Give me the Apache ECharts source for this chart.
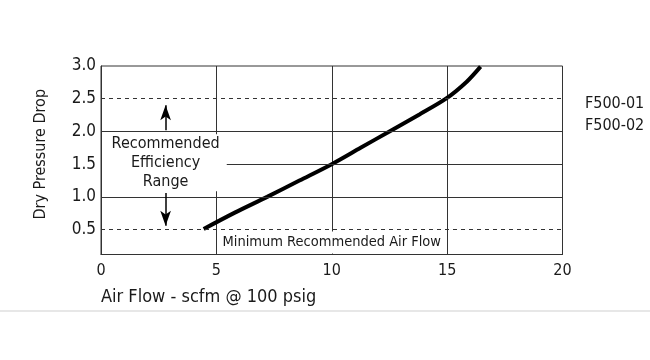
<!DOCTYPE html>
<html>
<head>
<meta charset="utf-8">
<script src="https://cdn.jsdelivr.net/npm/echarts@6/dist/echarts.min.js"></script>
<style>
html,body{margin:0;padding:0;background:#fff;}
#c{width:650px;height:360px;}
</style>
</head>
<body>
<div id="c"></div>
<script>
// ---- data ----
const airFlow = [4.45, 5.8, 7.2, 8.6, 10.0, 11.25, 12.5, 13.8, 14.95, 15.85, 16.45];
const pressureDrop = [0.51, 0.76, 1.0, 1.25, 1.5, 1.75, 2.0, 2.26, 2.5, 2.76, 2.99];
const yTickValues = [0.5, 1.0, 1.5, 2.0, 2.5, 3.0];
const dashedLevels = [0.5, 2.5];
const solidLevels = [1.0, 2.0];
const partialLevel = { from: 5.45, to: 20, y: 1.5 };
const upArrow = { x: 2.8, from: 2.02, to: 2.4 };
const downArrow = { x: 2.8, from: 1.06, to: 0.56 };
const efficiencyLabel = { x: 2.8, y: 1.52, text: 'Recommended\nEfficiency\nRange' };
const minFlowLabel = { x: 10, y: 0.305, text: 'Minimum Recommended Air Flow' };
const modelNames = ['F500-01', 'F500-02'];
const xTitle = 'Air Flow - scfm @ 100 psig';
const yTitle = 'Dry Pressure Drop';

const FONT = '"Liberation Sans Narrow", "DejaVu Sans Condensed", "Liberation Sans", sans-serif';
const INK = '#1a1a1a';
const GRID = '#333';

const chart = echarts.init(document.getElementById('c'), null, { renderer: 'canvas' });

const markLines = [];
dashedLevels.forEach(v => markLines.push({ yAxis: v, lineStyle: { type: [4, 4], color: GRID, width: 1 } }));
solidLevels.forEach(v => markLines.push({ yAxis: v, lineStyle: { type: 'solid', color: GRID, width: 1 } }));
markLines.push([
  { coord: [partialLevel.from, partialLevel.y], lineStyle: { type: 'solid', color: GRID, width: 1 } },
  { coord: [partialLevel.to, partialLevel.y] }
]);
[upArrow, downArrow].forEach(a => markLines.push([
  { coord: [a.x, a.from], symbol: 'none', lineStyle: { type: 'solid', color: '#000', width: 1.5 } },
  { coord: [a.x, a.to], symbol: 'arrow', symbolSize: [8, 15] }
]));

const option = {
  animation: false,
  backgroundColor: '#fff',
  textStyle: { fontFamily: FONT },
  grid: {
    left: 101, top: 66, right: 87.5, bottom: 105.5,
    show: true, borderColor: GRID, borderWidth: 1, backgroundColor: 'transparent'
  },
  title: [
    { text: xTitle, left: 101, top: 287, padding: 0,
      textStyle: { fontFamily: FONT, fontSize: 18, fontWeight: 'normal', color: INK, lineHeight: 20 } },
    { text: modelNames.join('\n'), left: 585, top: 93, padding: 0,
      textStyle: { fontFamily: FONT, fontSize: 16, fontWeight: 'normal', color: INK, lineHeight: 22 } }
  ],
  xAxis: {
    type: 'value', min: 0, max: 20, interval: 5,
    axisLine: { show: true, lineStyle: { color: GRID, width: 1 } },
    axisTick: { show: false },
    axisLabel: { color: INK, fontSize: 16, fontFamily: FONT, margin: 8 },
    splitLine: { show: true, lineStyle: { color: GRID, width: 1 } }
  },
  yAxis: {
    type: 'value', min: 0.12, max: 3.0,
    name: yTitle, nameLocation: 'middle', nameGap: 52,
    nameTextStyle: { color: INK, fontSize: 16, fontFamily: FONT, padding: [0, 0, 0, 12] },
    axisLine: { show: true, lineStyle: { color: GRID, width: 1 } },
    axisTick: { show: false },
    axisLabel: {
      customValues: yTickValues, color: INK, fontSize: 17, fontFamily: FONT, margin: 5,
      formatter: v => Number(v).toFixed(1)
    },
    splitLine: { show: false }
  },
  graphic: [
    { type: 'line', silent: true, shape: { x1: 0, y1: 311, x2: 650, y2: 311 },
      style: { stroke: '#cfcfcf', lineWidth: 1 } }
  ],
  series: [{
    type: 'line',
    data: airFlow.map((x, i) => [x, pressureDrop[i]]),
    smooth: 0.3,
    showSymbol: false,
    silent: true,
    lineStyle: { color: '#000', width: 4 },
    markLine: {
      silent: true, symbol: 'none', animation: false,
      label: { show: false },
      emphasis: { disabled: true },
      data: markLines
    },
    markPoint: {
      silent: true, animation: false,
      symbol: 'rect', symbolSize: 0,
      data: [
        { coord: [efficiencyLabel.x, efficiencyLabel.y],
          label: { show: true, position: 'inside', formatter: efficiencyLabel.text,
            fontFamily: FONT, fontSize: 16, lineHeight: 19, color: INK, align: 'center', verticalAlign: 'middle',
            backgroundColor: '#fff', padding: [0, 6] } },
        { coord: [minFlowLabel.x, minFlowLabel.y],
          label: { show: true, position: 'inside', formatter: minFlowLabel.text,
            fontFamily: FONT, fontSize: 14.5, lineHeight: 22, color: INK, align: 'center', verticalAlign: 'middle',
            backgroundColor: '#fff', padding: [0, 2] } }
      ]
    }
  }]
};
chart.setOption(option);
</script>
</body>
</html>
